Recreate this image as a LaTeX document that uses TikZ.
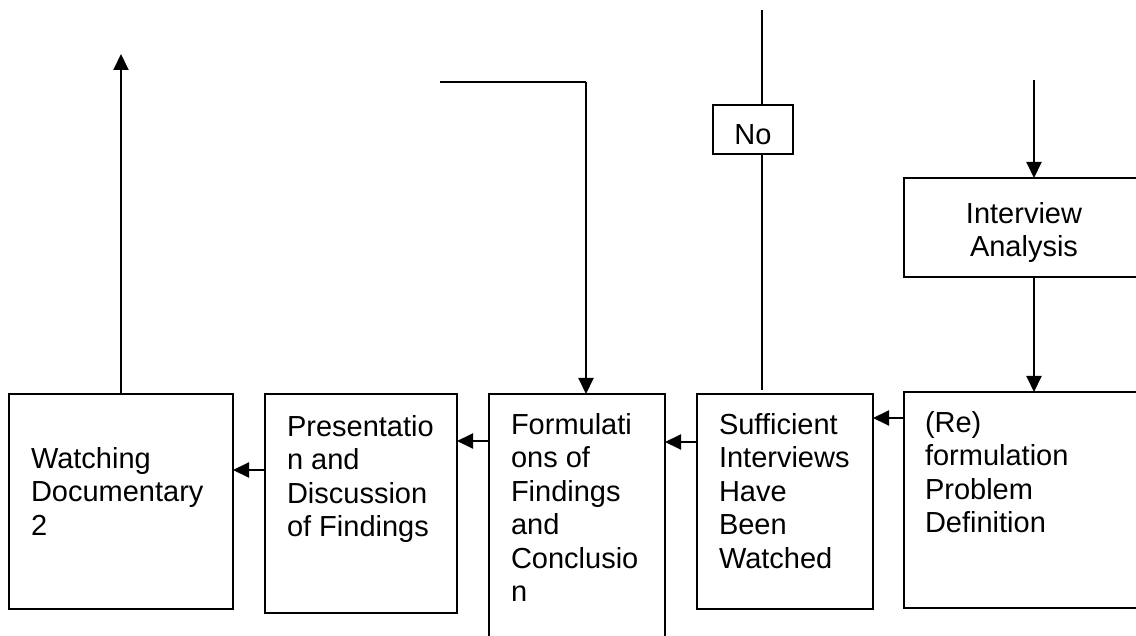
\documentclass[tikz,border=0pt]{standalone}
\usepackage{fontspec}
\setmainfont{Liberation Sans}
\usetikzlibrary{arrows.meta}
\tikzset{
  box/.style={draw=black, line width=2pt, rectangle, inner sep=0pt, outer sep=0pt, anchor=north west},
  txt/.style={inner sep=0pt, outer sep=0pt, align=left, anchor=north west, font=\fontsize{29}{33.5}\selectfont},
  arr/.style={line width=2pt, -{Triangle[length=16pt, width=15pt]}},
  ln/.style={line width=2pt}
}
\begin{document}
\begin{tikzpicture}[x=1pt, y=-1pt]
\useasboundingbox (0,0) rectangle (1136,636);
\clip (0,0) rectangle (1136,636);
\fill[white] (0,0) rectangle (1136,636);
% boxes
\node[box, minimum width=224pt, minimum height=215pt] (w) at (9,394) {};
\node[box, minimum width=192pt, minimum height=219pt] (p) at (265,394) {};
\node[box, minimum width=176pt, minimum height=260pt] (f) at (489,394) {};
\node[box, minimum width=176pt, minimum height=215pt] (s) at (697,394) {};
\node[box, minimum width=250pt, minimum height=216pt] (r) at (904,392) {};
\node[box, minimum width=244pt, minimum height=99pt] (ia) at (904,178) {};
\node[box, minimum width=80pt, minimum height=49pt] (no) at (713,105) {};
% texts
\node[txt] (wt) at (31,447) {Watching\\Documentary\\2};
\node[txt] (pt) at (287,415) {Presentatio\\n and\\Discussion\\of Findings};
\node[txt] (ft) at (511,413) {Formulati\\ons of\\Findings\\and\\Conclusio\\n};
\node[txt] (st) at (719,413) {Sufficient\\Interviews\\Have\\Been\\Watched};
\node[txt] (rt) at (925,411) {(Re)\\formulation\\Problem\\Definition};
\node[txt, align=center, anchor=north] (iat) at (1024,202) {Interview\\Analysis};
\node[txt, align=center, anchor=center] (not) at (753,135) {No};
% free ends
\coordinate (wup) at (121,54);
\coordinate (iain) at (1034,80);
\coordinate (ftop) at (440,82);
\coordinate (fcor) at (586,82);
\coordinate (notop) at (762,10);
% connectors
\draw[arr] (w.north -| wup) -- (wup);
\draw[arr] (iain) -- (ia.north -| iain);
\draw[arr] (ia.south -| iain) -- (r.north -| iain);
\draw[ln] (ftop) -- (fcor);
\draw[arr] (fcor) -- (f.north -| fcor);
\draw[ln] (notop) -- (no.north -| notop);
\draw[ln, shorten >=4pt] (no.south -| notop) -- (s.north -| notop);
\draw[arr] ([yshift=-26pt]r.north west) -- ([yshift=-24pt]s.north east);
\draw[arr] ([yshift=-48pt]s.north west) -- ([yshift=-48pt]f.north east);
\draw[arr] ([yshift=-47pt]f.north west) -- ([yshift=-47pt]p.north east);
\draw[arr] ([yshift=-76pt]p.north west) -- ([yshift=-76pt]w.north east);
\end{tikzpicture}
\end{document}
